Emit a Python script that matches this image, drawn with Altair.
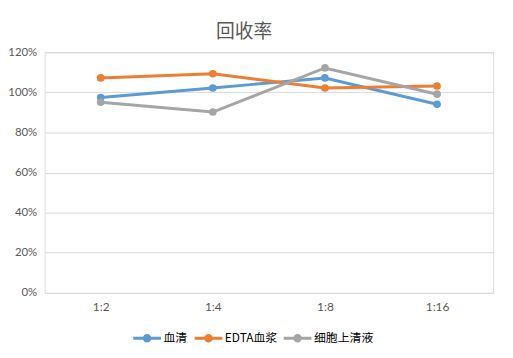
import altair as alt
import pandas as pd

categories = ["1:2", "1:4", "1:8", "1:16"]
series_names = ["血清", "EDTA血浆", "细胞上清液"]
serum = [0.974, 1.022, 1.072, 0.941]
edta = [1.072, 1.093, 1.022, 1.032]
supernatant = [0.951, 0.902, 1.122, 0.991]
colors = ["#5B9BD5", "#ED7D31", "#A5A5A5"]
y_ticks = [0, 0.2, 0.4, 0.6, 0.8, 1.0, 1.2]

rows = []
for name, vals in zip(series_names, [serum, edta, supernatant]):
    for c, v in zip(categories, vals):
        rows.append({"dilution": c, "series": name, "value": v})
df = pd.DataFrame(rows)

font = "Noto Sans CJK SC"
symbol_path = ("M-1,0L1,0M-0.2,0A0.2,0.2 0 1,0 0.2,0"
               "A0.2,0.2 0 1,0 -0.2,0Z")

chart = alt.Chart(df).mark_line(
    strokeWidth=3,
    point=alt.OverlayMarkDef(size=60, filled=True, opacity=1),
).encode(
    x=alt.X("dilution:N", sort=categories, title=None,
            scale=alt.Scale(type="point", padding=0.5),
            axis=alt.Axis(labelAngle=0, ticks=False, domain=False, grid=False,
                          labelPadding=9, labelFontSize=12, labelColor="#595959",
                          labelFont="Lato")),
    y=alt.Y("value:Q", title=None,
            scale=alt.Scale(domain=[0, 1.2], nice=False),
            axis=alt.Axis(values=y_ticks, format=".0%", ticks=False, domain=False,
                          gridColor="#d9d9d9", gridWidth=1, labelPadding=8,
                          labelFontSize=11.5, labelColor="#595959", labelFont="Lato")),
    color=alt.Color("series:N", sort=series_names,
                    scale=alt.Scale(domain=series_names, range=colors),
                    legend=alt.Legend(orient="none", direction="horizontal", title=None,
                                      legendX=88, legendY=273,
                                      symbolType=symbol_path, symbolSize=784,
                                      symbolStrokeWidth=3, labelFontSize=12,
                                      labelFont=font, labelColor="#000000",
                                      columnPadding=0, symbolOffset=0,
                                      labelOffset=1)),
).properties(
    width=453,
    height=243,
    title=alt.TitleParams("回收率", fontSize=19, font=font, fontWeight="normal",
                          color="#595959", anchor="middle", dx=-25, offset=4),
    autosize=alt.AutoSizeParams(type="none"),
    padding={"left": 37, "top": 43, "right": 12, "bottom": 60},
).configure_view(stroke=None).configure(background="white")

chart.save("out.html", embed_options={"renderer": "svg", "actions": False})
